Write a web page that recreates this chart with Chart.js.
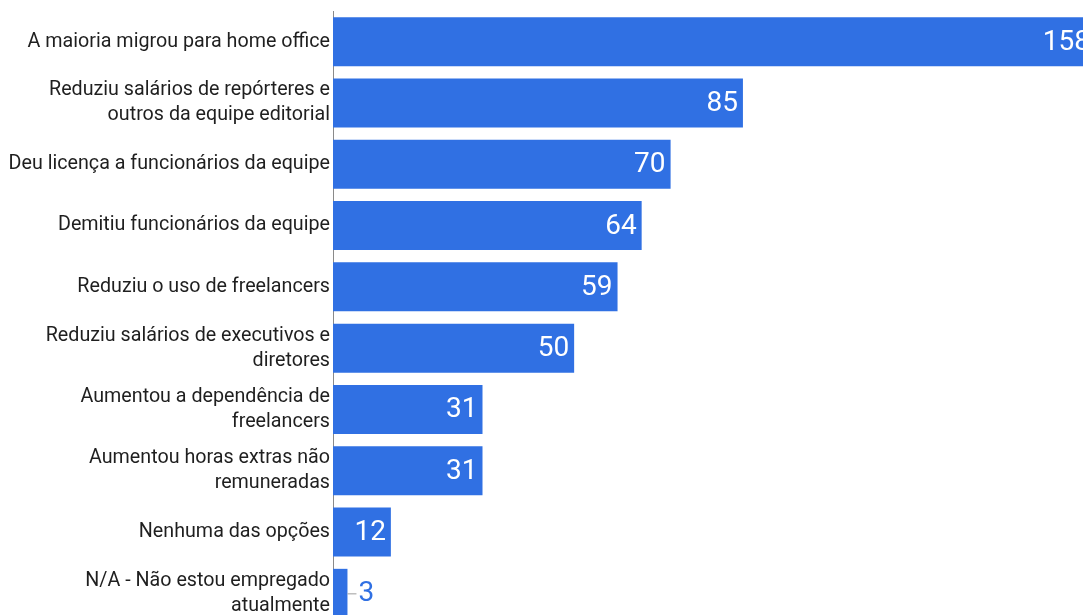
<!DOCTYPE html>
<html>
<head>
<meta charset="utf-8">
<script src="https://cdn.jsdelivr.net/npm/chart.js@4/dist/chart.umd.min.js"></script>
<style>
  html, body { margin: 0; padding: 0; background: #fff; overflow: hidden; }
  canvas { display: block; }
</style>
</head>
<body>
<canvas id="myChart" width="1095" height="625"></canvas>
<script>
// respostas (uma por linha, quebras de linha como no rótulo)
var categorias = [
  ["A maioria migrou para home office"],
  ["Reduziu salários de repórteres e", "outros da equipe editorial"],
  ["Deu licença a funcionários da equipe"],
  ["Demitiu funcionários da equipe"],
  ["Reduziu o uso de freelancers"],
  ["Reduziu salários de executivos e", "diretores"],
  ["Aumentou a dependência de", "freelancers"],
  ["Aumentou horas extras não", "remuneradas"],
  ["Nenhuma das opções"],
  ["N/A - Não estou empregado", "atualmente"]
];
var valores = [158, 85, 70, 64, 59, 50, 31, 31, 12, 3];
var xMax = 158;

const azul = "#3070e3";
const fonte = "Roboto, 'Noto Sans', sans-serif";

// escreve o valor dentro da barra (ou fora, se nao couber)
const rotulosValor = {
  id: "rotulosValor",
  afterDatasetsDraw(chart) {
    const ctx = chart.ctx;
    const meta = chart.getDatasetMeta(0);
    ctx.save();
    ctx.font = "28px " + fonte;
    ctx.textBaseline = "middle";
    meta.data.forEach(function (bar, i) {
      const txt = valores[i].toString();
      const w = ctx.measureText(txt).width;
      if (w + 12 < bar.x - bar.base) {
        ctx.fillStyle = "#ffffff";
        ctx.textAlign = "right";
        ctx.fillText(txt, bar.x - 5, bar.y + 1);
      } else {
        ctx.strokeStyle = "#9e9e9e";
        ctx.lineWidth = 1;
        ctx.beginPath();
        ctx.moveTo(bar.x, bar.y + 0.5);
        ctx.lineTo(bar.x + 9, bar.y + 0.5);
        ctx.stroke();
        ctx.fillStyle = azul;
        ctx.textAlign = "left";
        ctx.fillText(txt, bar.x + 11, bar.y + 1);
      }
    });
    ctx.restore();
  }
};

const ctx = document.getElementById("myChart");
new Chart(ctx, {
  type: "bar",
  data: {
    labels: categorias,
    datasets: [{
      data: valores,
      backgroundColor: azul,
      borderWidth: 0,
      categoryPercentage: 0.8,
      barPercentage: 1.0
    }]
  },
  options: {
    indexAxis: "y",
    responsive: false,
    animation: false,
    devicePixelRatio: 1,
    layout: { padding: { top: 11, bottom: 1, left: 0, right: 0 } },
    plugins: {
      legend: { display: false },
      tooltip: { enabled: false }
    },
    scales: {
      x: {
        display: false,
        min: 0,
        max: xMax
      },
      y: {
        afterFit: function (scale) {
          scale.width = 333;
          // sem folga extra para o primeiro/ultimo rotulo
          scale.paddingTop = 0;
          scale.paddingBottom = 0;
        },
        grid: { display: false, drawTicks: false },
        border: { display: true, color: "#8a8a8a", width: 1 },
        ticks: {
          padding: 3,
          color: "#1f1f1f",
          font: { family: fonte, size: 19.7, lineHeight: 1.27 }
        }
      }
    }
  },
  plugins: [rotulosValor]
});
</script>
</body>
</html>
